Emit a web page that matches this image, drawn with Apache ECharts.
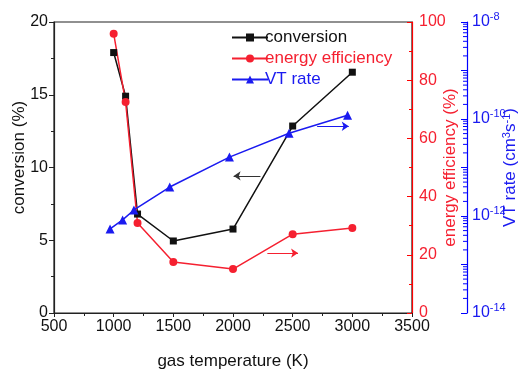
<!DOCTYPE html>
<html>
<head>
<meta charset="utf-8">
<script src="https://cdn.jsdelivr.net/npm/echarts@6/dist/echarts.min.js"></script>
<style>html,body{margin:0;padding:0;background:#fff}#c{width:520px;height:370px}</style>
</head>
<body>
<div id="c"></div>
<script>
// data
const tempK = [1000, 1100, 1200, 1500, 2000, 2500, 3000];
const conversion = [17.9, 14.9, 6.8, 4.95, 5.77, 12.85, 16.55];
const energyEfficiency = [96, 72.5, 30.9, 17.5, 15.1, 27.1, 29.2];
const vtTempK = [970, 1075, 1170, 1470, 1970, 2470, 2960];
const vtRate = [5.4e-13, 8.3e-13, 1.33e-12, 3.96e-12, 1.64e-11, 5.1e-11, 1.2e-10];
const xTicks = [500, 1000, 1500, 2000, 2500, 3000, 3500];

const FONT = 'Liberation Sans';
const BLACK = '#111';
const RED = '#ff0000';
const RED_S = '#f52030';
const BLUE = '#0000ff';
const BLUE_S = '#1a1af0';

const chart = echarts.init(document.getElementById('c'), null, {renderer: 'canvas'});

const pairs = (xs, ys) => xs.map((x, i) => [x, ys[i]]);
const arrowLine = (color) => ({
  silent: true, symbol: ['none', 'arrow'], symbolSize: 7, label: {show: false},
  lineStyle: {color: color, width: 1, type: 'solid', opacity: 1},
  itemStyle: {color: color},
  emphasis: {disabled: true}
});

const option = {
  animation: false,
  textStyle: {fontFamily: FONT},
  grid: {left: 54, right: 108, top: 22, bottom: 57, show: true, borderColor: '#222', borderWidth: 1.2,
    containLabel: false, outerBoundsMode: 'none'},
  legend: {
    orient: 'vertical', left: 226, top: 24, itemWidth: 36, itemHeight: 10, itemGap: 4,
    textStyle: {fontSize: 17, fontFamily: FONT, padding: [0, 0, 0, -8]},
    data: [
      {name: 'conversion', textStyle: {color: BLACK}},
      {name: 'energy efficiency', textStyle: {color: RED_S}},
      {name: 'VT rate', textStyle: {color: BLUE_S}}
    ]
  },
  xAxis: {
    type: 'value', min: xTicks[0], max: xTicks[xTicks.length - 1], interval: 500,
    name: 'gas temperature (K)', nameLocation: 'middle', nameGap: 40, nameMoveOverlap: false,
    nameTextStyle: {fontSize: 17, color: BLACK, fontFamily: FONT},
    axisLine: {lineStyle: {color: '#222', width: 1.2}},
    axisTick: {show: true, inside: false, length: 4, lineStyle: {color: '#222'}},
    minorTick: {show: true, splitNumber: 2, length: 3, lineStyle: {color: '#222'}},
    splitLine: {show: false},
    axisLabel: {fontSize: 16, color: BLACK, margin: 6, fontFamily: FONT, formatter: (v) => String(v)}
  },
  yAxis: [
    {
      type: 'value', min: 0, max: 20, interval: 5, position: 'left',
      name: 'conversion (%)', nameLocation: 'middle', nameGap: 26, nameMoveOverlap: false,
      nameTextStyle: {fontSize: 17, color: BLACK, fontFamily: FONT, padding: [0, 0, 0, 20]},
      axisLine: {show: true, lineStyle: {color: '#222', width: 1.2}},
      axisTick: {show: true, inside: false, length: 5, lineStyle: {color: '#222'}},
      minorTick: {show: true, splitNumber: 2, length: 3, lineStyle: {color: '#222'}},
      splitLine: {show: false},
      axisLabel: {fontSize: 16, color: BLACK, margin: 6, fontFamily: FONT}
    },
    {
      type: 'value', min: 0, max: 100, interval: 20, position: 'right',
      name: 'energy efficiency (%)', nameLocation: 'middle', nameGap: 30, nameMoveOverlap: false,
      nameTextStyle: {fontSize: 17, color: RED_S, fontFamily: FONT},
      axisLine: {show: true, lineStyle: {color: RED, width: 1.2}},
      axisTick: {show: true, inside: true, length: 5, lineStyle: {color: RED}},
      minorTick: {show: true, splitNumber: 2, length: 3, lineStyle: {color: RED}},
      splitLine: {show: false},
      axisLabel: {fontSize: 16, color: RED_S, margin: 7, fontFamily: FONT}
    },
    {
      type: 'log', logBase: 10, min: 1e-14, max: 1e-8, interval: 1, position: 'right', offset: 55,
      name: 'VT rate (cm{sup|3}s{sup|-1})', nameLocation: 'middle', nameGap: 34, nameMoveOverlap: false,
      nameTextStyle: {fontSize: 17, color: BLUE_S, fontFamily: FONT,
        rich: {sup: {fontSize: 11, color: BLUE_S, padding: [0, 0, 8, 0], fontFamily: FONT}}},
      axisLine: {show: true, lineStyle: {color: BLUE, width: 1.2}},
      axisTick: {show: true, inside: true, length: 6, lineStyle: {color: BLUE, width: 1}},
      minorTick: {show: false},
      splitLine: {show: false},
      axisLabel: {
        fontSize: 16, color: BLUE_S, margin: 5, fontFamily: FONT,
        formatter: function (v) {
          const e = Math.round(Math.log10(v));
          return (e % 2 === 0) ? '10{sup|' + e + '}' : '';
        },
        rich: {sup: {fontSize: 11, color: BLUE_S, padding: [0, 0, 10, 0], fontFamily: FONT}}
      }
    }
  ],
  series: [
    {
      name: 'conversion', type: 'line', xAxisIndex: 0, yAxisIndex: 0,
      data: pairs(tempK, conversion),
      symbol: 'rect', symbolSize: 7,
      lineStyle: {color: BLACK, width: 1.5}, itemStyle: {color: BLACK},
      markLine: Object.assign(arrowLine('#333'), {data: [[{coord: [2230, 9.42]}, {coord: [2005, 9.42]}]]})
    },
    {
      name: 'energy efficiency', type: 'line', xAxisIndex: 0, yAxisIndex: 1,
      data: pairs(tempK, energyEfficiency),
      symbol: 'circle', symbolSize: 8,
      lineStyle: {color: RED_S, width: 1.5}, itemStyle: {color: RED_S},
      markLine: Object.assign(arrowLine(RED_S), {data: [[{coord: [2288, 20.6]}, {coord: [2545, 20.6]}]]})
    },
    {
      name: 'VT rate', type: 'line', xAxisIndex: 0, yAxisIndex: 2,
      data: pairs(vtTempK, vtRate),
      symbol: 'triangle', symbolSize: 9,
      lineStyle: {color: BLUE_S, width: 1.5}, itemStyle: {color: BLUE_S},
      markLine: Object.assign(arrowLine(BLUE_S), {data: [[{coord: [2705, 7.1e-11]}, {coord: [2970, 7.1e-11]}]]})
    }
  ]
};
chart.setOption(option);

// logarithmic minor ticks on the VT-rate axis, placed through the axis scale
function drawLogMinorTicks() {
  const els = [];
  try {
    const axisX = chart.convertToPixel({xAxisIndex: 0}, xTicks[xTicks.length - 1]) + 55;
    for (let e = -14; e < -8; e++) {
      for (let k = 2; k <= 9; k++) {
        const y = chart.convertToPixel({yAxisIndex: 2}, k * Math.pow(10, e));
        els.push({type: 'line', shape: {x1: axisX - 4, y1: y, x2: axisX, y2: y},
          style: {stroke: BLUE, lineWidth: 1}, silent: true, z: 10});
      }
    }
  } catch (err) {
    els.push({type: 'text', left: 5, top: 5, style: {text: 'ERR ' + err.message, fill: '#f0f', fontSize: 10}});
  }
  chart.setOption({graphic: els});
}
drawLogMinorTicks();
</script>
</body>
</html>
